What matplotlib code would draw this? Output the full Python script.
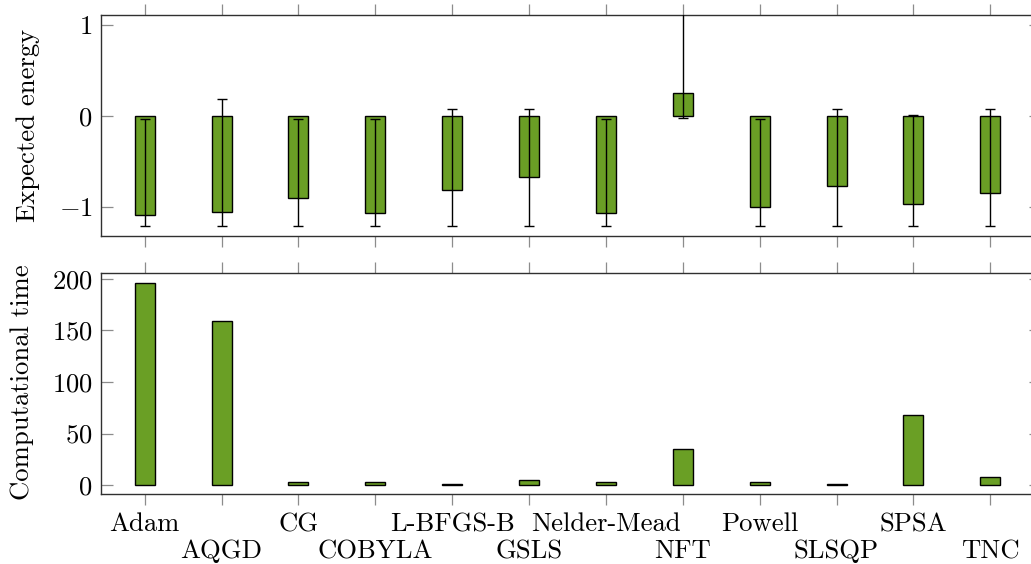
import numpy as np
import matplotlib
matplotlib.use("Agg")
import matplotlib.pyplot as plt

plt.rcParams['font.family'] = 'cmr10'
plt.rcParams['mathtext.fontset'] = 'cm'
plt.rcParams['axes.formatter.use_mathtext'] = True
plt.rcParams['font.size'] = 19.2

# data
optimizers = ['Adam', 'AQGD', 'CG', 'COBYLA', 'L-BFGS-B', 'GSLS',
              'Nelder-Mead', 'NFT', 'Powell', 'SLSQP', 'SPSA', 'TNC']
energy = [-1.09, -1.055, -0.91, -1.066, -0.82, -0.672,
          -1.066, 0.254, -1.0, -0.768, -0.97, -0.849]
energy_min = [-1.21, -1.21, -1.21, -1.21, -1.21, -1.21,
              -1.21, -0.022, -1.21, -1.21, -1.21, -1.21]
energy_max = [-0.036, 0.18, -0.036, -0.036, 0.074, 0.074,
              -0.036, 1.6, -0.036, 0.074, 0.014, 0.074]
comp_time = [195.8, 158.9, 2.6, 2.6, 0.8, 5.2, 2.6, 34.6, 2.6, 0.8, 68.3, 7.8]

green = '#6a9f25'
tick_col = '#8c8c8c'
spine_col = '#303030'

fig = plt.figure(figsize=(10.31, 5.64), dpi=100)
W, H = 1031.0, 564.0
left = 101 / W
width = (1041 - 101) / W
ax1 = fig.add_axes([left, 1 - 235.7 / H, width, (235.7 - 15) / H])
ax2 = fig.add_axes([left, 1 - 494 / H, width, (494 - 273.3) / H])

x = np.arange(len(optimizers))
e = np.array(energy)
yerr = [e - np.array(energy_min), np.array(energy_max) - e]

ax1.bar(x, energy, width=0.26, color=green, edgecolor='black', linewidth=1.0, zorder=2)
ax1.errorbar(x, energy, yerr=yerr, fmt='none', ecolor='black', elinewidth=1.0,
             capsize=3.85, capthick=1.0, zorder=3)
ax1.set_ylim(-1.32, 1.11)
ax1.set_yticks([-1, 0, 1])

ax2.bar(x, comp_time, width=0.26, color=green, edgecolor='black', linewidth=1.0, zorder=2)
ax2.set_ylim(-8.7, 205.5)
ax2.set_yticks([0, 50, 100, 150, 200])

for ax in (ax1, ax2):
    ax.set_xlim(-0.568, 11.66)
    ax.set_xticks(x)
    for s in ax.spines.values():
        s.set_color(spine_col)
        s.set_linewidth(1.0)
    ax.tick_params(axis='x', direction='out', length=8, width=0.9, color=tick_col,
                   top=True, bottom=True)
    ax.tick_params(axis='y', direction='in', length=8.4, width=0.9, color=tick_col,
                   left=True, right=True, pad=6)

ax1.set_xticklabels([])
ax2.set_xticklabels(optimizers)
for i, t in enumerate(ax2.xaxis.get_major_ticks()):
    t.set_pad(5.5 if i % 2 == 0 else 24.8)

fig.text(28.5 / W, 1 - 125.4 / H, 'Expected energy', rotation=90,
         ha='center', va='center')
fig.text(21.7 / W, 1 - 381.7 / H, 'Computational time', rotation=90,
         ha='center', va='center')

fig.savefig('out.png', dpi=100)
